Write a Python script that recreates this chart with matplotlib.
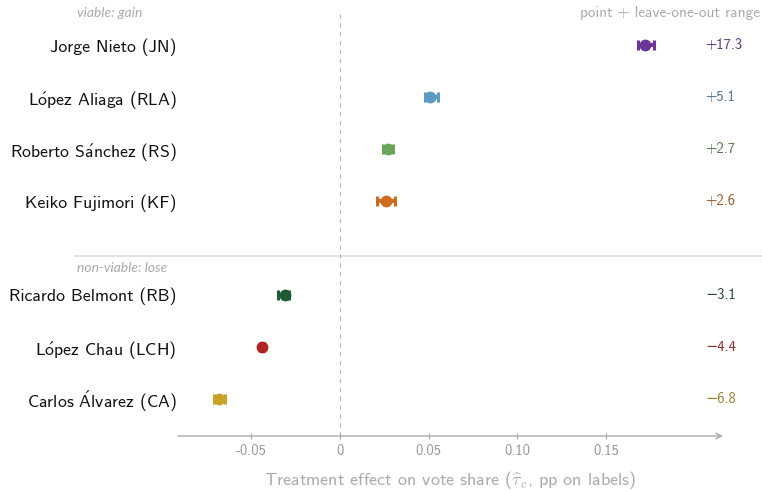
import matplotlib
matplotlib.use('Agg')
import matplotlib.pyplot as plt

plt.rcParams['font.family'] = ['cmss10', 'DejaVu Sans']
plt.rcParams['mathtext.fontset'] = 'cm'
plt.rcParams['axes.unicode_minus'] = False

# candidates, top to bottom (accents via mathtext, cmss10 has no Latin-1 accents)
names = ['Jorge Nieto (JN)', r'L$\mathsf{\acute{o}}$pez Aliaga (RLA)',
         r'Roberto S$\mathsf{\acute{a}}$nchez (RS)', 'Keiko Fujimori (KF)',
         'Ricardo Belmont (RB)', r'L$\mathsf{\acute{o}}$pez Chau (LCH)',
         r'Carlos $\mathsf{\acute{A}}$lvarez (CA)']
effects = [0.172, 0.051, 0.027, 0.026, -0.031, -0.044, -0.068]
loo_low = [0.168, 0.048, 0.024, 0.021, -0.035, -0.045, -0.071]
loo_high = [0.177, 0.055, 0.030, 0.031, -0.029, -0.043, -0.065]
value_labels = ['+17.3', '+5.1', '+2.7', '+2.6', '\u22123.1', '\u22124.4', '\u22126.8']
ypos = [0, 1, 2, 3, 4.8, 5.8, 6.8]

colors = ['#6a3596', '#5b9bc4', '#6aa55a', '#d06a1e', '#1e5a34', '#b22424', '#c9a22a']
text_colors = ['#5a3580', '#4d7591', '#4f7a45', '#985a2a', '#24473a', '#8e2b2b', '#94802c']

xticks = [-0.05, 0, 0.05, 0.10, 0.15]
xticklabels = ['-0.05', '0', '0.05', '0.10', '0.15']

fig = plt.figure(figsize=(7.62, 4.91), dpi=100)
ax = fig.add_axes([178 / 762, 55 / 491, 545 / 762, 426 / 491])

ax.axvline(0, ls=(0, (4, 4)), color='#bbbbbb', lw=0.8, zorder=1)

for i in range(len(names)):
    xerr = [[effects[i] - loo_low[i]], [loo_high[i] - effects[i]]]
    ax.errorbar(effects[i], ypos[i], xerr=xerr, fmt='o', color=colors[i],
                ms=7.5, elinewidth=3, capsize=3.6, capthick=2.2, zorder=3)
    ax.text(0.967, ypos[i], value_labels[i], transform=ax.get_yaxis_transform(),
            ha='left', va='center', fontsize=10.5, color=text_colors[i])

ax.set_xlim(-0.0914, 0.216)
ax.set_ylim(7.52, -0.673)

ax.set_yticks(ypos)
ax.set_yticklabels(names, fontsize=12.8, color='#111111')
ax.tick_params(axis='y', length=0, pad=1)

ax.set_xticks(xticks)
ax.set_xticklabels(xticklabels, fontsize=10.5, color='#999999')
ax.tick_params(axis='x', direction='inout', length=5, color='#aaaaaa', pad=3)

for s in ['top', 'right', 'left', 'bottom']:
    ax.spines[s].set_visible(False)

ax.annotate('', xy=(1.0, 0), xytext=(0, 0), xycoords='axes fraction',
            arrowprops=dict(arrowstyle='->', color='#aaaaaa', lw=1,
                            shrinkA=0, shrinkB=0), annotation_clip=False)

ax.set_xlabel(r'Treatment effect on vote share ($\widehat{\tau}_c$, pp on labels)',
              fontsize=13, color='#aaaaaa', labelpad=8)

# group separator and group labels
ax.plot([-0.189, 1.072], [4.06, 4.06], transform=ax.get_yaxis_transform(),
        color='#dddddd', lw=1.2, clip_on=False, zorder=0)
ax.text(-0.186, -0.62, 'viable: gain', transform=ax.get_yaxis_transform(),
        ha='left', va='center', fontsize=10, color='#aaaaaa',
        family='Lato', style='italic')
ax.text(-0.186, 4.29, 'non-viable: lose', transform=ax.get_yaxis_transform(),
        ha='left', va='center', fontsize=10, color='#aaaaaa',
        family='Lato', style='italic')
ax.text(1.068, -0.62, 'point + leave-one-out range', transform=ax.get_yaxis_transform(),
        ha='right', va='center', fontsize=11, color='#aaaaaa')

fig.savefig('out.png', dpi=100)
